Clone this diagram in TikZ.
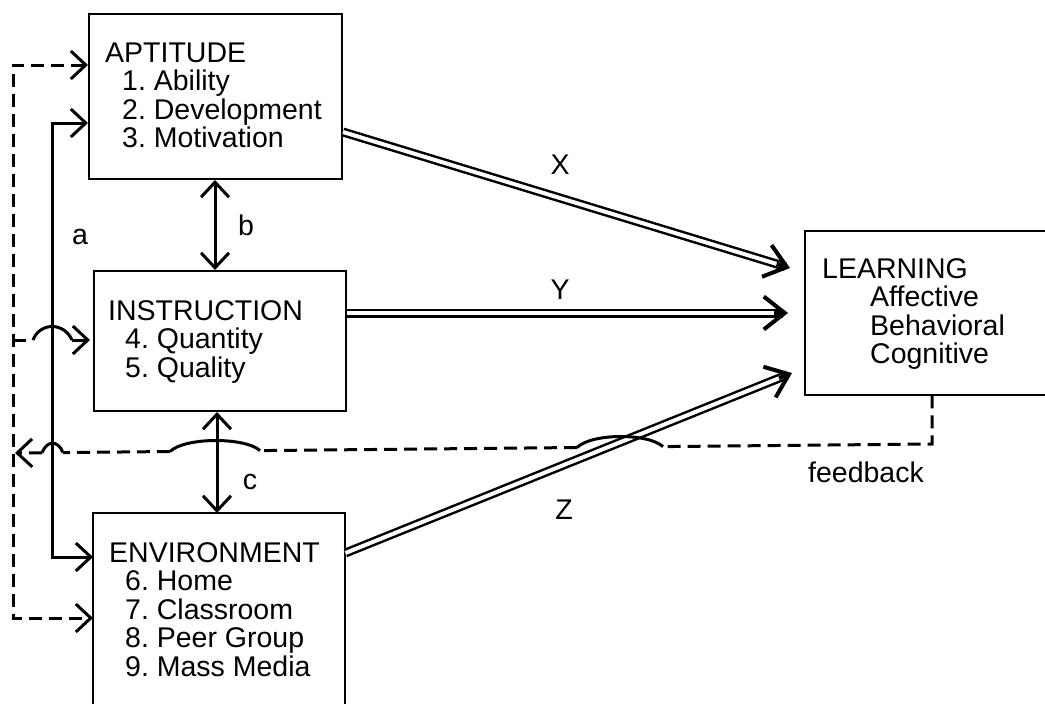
\documentclass[tikz,border=0pt]{standalone}
\usepackage{fontspec}
\setmainfont{Liberation Sans}
\usetikzlibrary{arrows.meta,calc}
\tikzset{
  box/.style={draw, line width=2pt, inner sep=0pt, anchor=north west},
  openbox/.style={inner sep=0pt, anchor=north west},
  edge/.style={line width=2pt},
  lbl/.style={anchor=base west, inner sep=0pt},
  tag/.style={inner sep=0pt},
  ln/.style={line width=3pt},
  dsh/.style={line width=3pt, dash pattern=on 13pt off 7pt},
  dbl/.style={line width=2.5pt, double distance=4pt, double=white},
  dblhead/.style={line width=4pt, -{Straight Barb[length=21pt,width=33pt]}},
  >={Straight Barb[length=15pt,width=28pt]}
}
\begin{document}
\frenchspacing
\begin{tikzpicture}[x=1pt,y=-1pt,font=\fontsize{28.5}{28.5}\selectfont]
\useasboundingbox (0,0) rectangle (1045,704);
\clip (0,0) rectangle (1045,704);
% boxes
\node[box, minimum width=253pt, minimum height=165pt] (apt) at (88,13) {};
\node[box, minimum width=252pt, minimum height=140pt] (inst) at (93,270) {};
\node[openbox, minimum width=252pt, minimum height=260pt] (env) at (93,513) {};
\node[openbox, minimum width=320pt, minimum height=164pt] (learn) at (805,231) {};
\draw[edge] (env.south west) -- (env.north west) -- (env.north east) -- (env.south east);
\draw[edge] (learn.north east) -- (learn.north west) -- (learn.south west) -- (learn.south east);
% texts
\node[lbl] (t1) at (105,62) {APTITUDE};
\node[lbl] (t2) at (122,90.5) {1. Ability};
\node[lbl] (t3) at (122,119) {2. Development};
\node[lbl] (t4) at (122,147.5) {3. Motivation};
\node[lbl] (t5) at (108,320) {INSTRUCTION};
\node[lbl] (t6) at (125,348.5) {4. Quantity};
\node[lbl] (t7) at (125,377) {5. Quality};
\node[lbl] (t8) at (109,562) {ENVIRONMENT};
\node[lbl] (t9) at (125,590.5) {6. Home};
\node[lbl] (t10) at (125,619) {7. Classroom};
\node[lbl] (t11) at (125,647.5) {8. Peer Group};
\node[lbl] (t12) at (125,676) {9. Mass Media};
\node[lbl] (t13) at (822,278) {LEARNING};
\node[lbl] (t14) at (870,306.5) {Affective};
\node[lbl] (t15) at (870,335) {Behavioral};
\node[lbl] (t16) at (870,363.5) {Cognitive};
% labels
\node[tag] (lx) at (560,165) {X};
\node[tag] (ly) at (560,290) {Y};
\node[tag] (lz) at (564,510) {Z};
\node[tag] (la) at (80,237) {a};
\node[tag] (lb) at (246,225) {b};
\node[tag] (lc) at (250,482) {c};
\node[tag] (lf) at (866,472) {feedback};
% double arrows
\coordinate (xs) at (apt.east |- 0,132);
\coordinate (xe) at ($(learn.west |- 0,268)+(-15,0)$);
\coordinate (ys) at (inst.east |- 0,313);
\coordinate (ye) at ($(learn.west |- 0,313)+(-17,0)$);
\coordinate (zs) at (env.east |- 0,553);
\coordinate (ze) at ($(learn.west |- 0,373)+(-13,0)$);
\foreach \s/\e in {xs/xe,ys/ye,zs/ze}{
  \draw[dbl] (\s) -- ($(\e)!5pt!(\s)$);
  \draw[dblhead] ($(\e)!14pt!(\s)$) -- (\e);
}
% b and c
\draw[ln,<->] (apt.south -| 215,0) -- (inst.north -| 215,0);
\draw[ln,<->] (inst.south -| 217,0) -- (env.north -| 217,0);
% a
\coordinate (a1) at (52,123);
\coordinate (a2) at (52,557);
\draw[ln,<->] (apt.west |- a1) -- (a1) -- (a2) -- (env.west |- a2);
% outer dashed
\coordinate (d1) at (13,65);
\coordinate (d2) at (13,618);
\draw[dsh,<->] (apt.west |- d1) -- (d1) -- (d2) -- (env.west |- d2);
% middle dashed with hop
\coordinate (m0) at (13,340);
\coordinate (m1) at (33,340);
\coordinate (m2) at (72,340);
\draw[dsh] (m0) -- (m1);
\draw[ln] (m1) .. controls (40,322) and (64,322) .. (m2);
\draw[ln,->] (m2) -- ($(inst.west |- m2)+(-3,0)$);
% feedback
\coordinate (f0) at (learn.south -| 932,0);
\coordinate (f1) at (932,444);
\coordinate (h1) at (663,446.6);
\coordinate (h2) at (577,447.5);
\coordinate (h3) at (260,450.6);
\coordinate (h4) at (170,451.5);
\coordinate (h5) at (63,452.6);
\coordinate (h6) at (42,452.8);
\coordinate (f9) at (15,453);
\draw[dsh] (f0) -- (f1) -- (h1);
\draw[ln] (h1) .. controls (648,433) and (592,433) .. (h2);
\draw[dsh] (h2) -- (h3);
\draw[ln] (h3) .. controls (245,437) and (185,437) .. (h4);
\draw[dsh] (h4) -- (h5);
\draw[ln] (h5) .. controls (58,440) and (47,440) .. (h6);
\draw[dsh,->] (h6) -- (f9);
\end{tikzpicture}
\end{document}
